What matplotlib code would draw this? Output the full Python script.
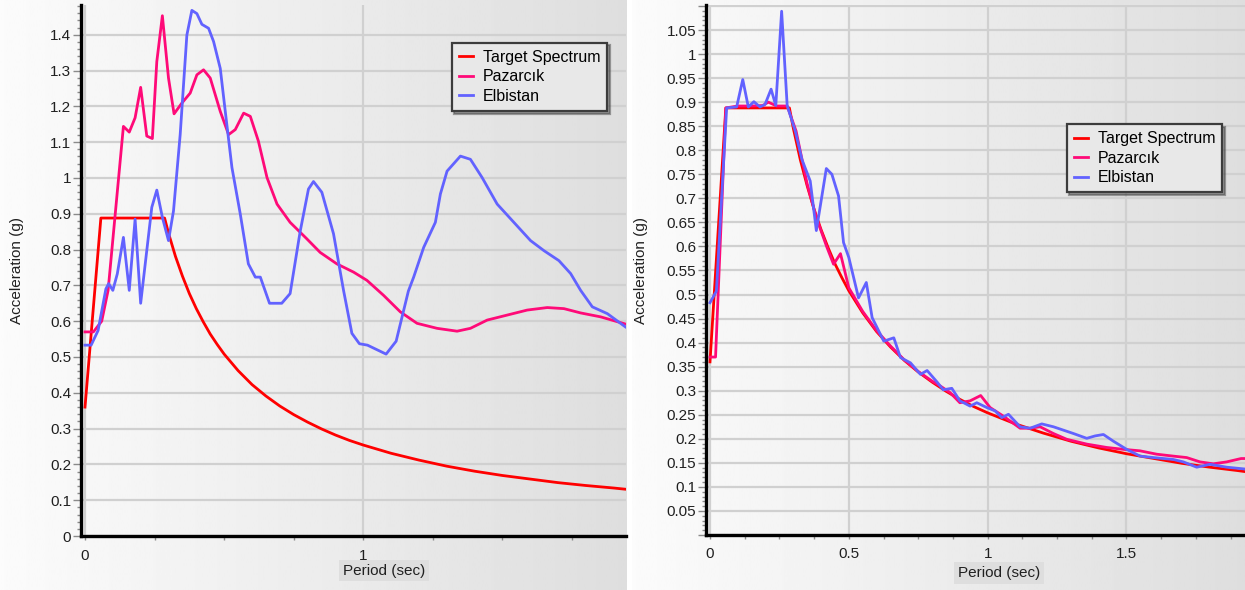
import numpy as np
import matplotlib
matplotlib.use("Agg")
import matplotlib.pyplot as plt
from matplotlib.ticker import MultipleLocator, FuncFormatter

plt.rcParams["font.family"] = ["Liberation Sans", "DejaVu Sans"]

# ------------------------ DATA ------------------------
# target design spectrum (same in both panels)
target_period = [0.0, 0.057, 0.286, 0.30, 0.325, 0.35, 0.375, 0.40, 0.425, 0.45, 0.475,
                 0.50, 0.55, 0.60, 0.65, 0.70, 0.75, 0.80, 0.85, 0.90, 0.95, 1.00,
                 1.10, 1.20, 1.30, 1.40, 1.50, 1.60, 1.70, 1.80, 1.90, 1.95]
target_sa = [0.36, 0.888, 0.888, 0.846, 0.781, 0.726, 0.677, 0.635, 0.598, 0.564, 0.535,
             0.508, 0.462, 0.423, 0.391, 0.363, 0.339, 0.318, 0.299, 0.282, 0.267, 0.254,
             0.231, 0.212, 0.195, 0.181, 0.169, 0.159, 0.149, 0.141, 0.134, 0.130]

# left panel: unscaled records
paz_period_l = [0.0, 0.03, 0.06, 0.083, 0.138, 0.159, 0.18, 0.20, 0.222, 0.242, 0.258,
                0.278, 0.30, 0.32, 0.348, 0.378, 0.402, 0.426, 0.45, 0.486, 0.516, 0.54,
                0.57, 0.594, 0.623, 0.654, 0.69, 0.737, 0.797, 0.845, 0.905, 0.965, 1.013,
                1.073, 1.133, 1.193, 1.265, 1.337, 1.385, 1.445, 1.517, 1.589, 1.661,
                1.721, 1.781, 1.853, 1.942]
paz_sa_l = [0.57, 0.57, 0.60, 0.686, 1.144, 1.128, 1.168, 1.253, 1.117, 1.11, 1.325,
            1.453, 1.279, 1.179, 1.209, 1.237, 1.288, 1.302, 1.279, 1.186, 1.121, 1.135,
            1.181, 1.172, 1.103, 1.001, 0.927, 0.876, 0.83, 0.792, 0.76, 0.737, 0.714,
            0.672, 0.626, 0.594, 0.58, 0.572, 0.58, 0.603, 0.617, 0.631, 0.638,
            0.635, 0.623, 0.612, 0.592]

elb_period_l = [0.0, 0.022, 0.047, 0.075, 0.085, 0.10, 0.116, 0.138, 0.159, 0.18, 0.20,
                0.24, 0.258, 0.278, 0.30, 0.318, 0.342, 0.366, 0.384, 0.402, 0.42, 0.444,
                0.462, 0.486, 0.504, 0.528, 0.558, 0.587, 0.612, 0.63, 0.663, 0.707, 0.737,
                0.773, 0.803, 0.821, 0.851, 0.893, 0.929, 0.959, 0.986, 1.015, 1.082,
                1.118, 1.162, 1.181, 1.217, 1.259, 1.277, 1.301, 1.349, 1.385, 1.427,
                1.481, 1.541, 1.601, 1.649, 1.703, 1.745, 1.781, 1.823, 1.877, 1.942]
elb_sa_l = [0.533, 0.533, 0.574, 0.69, 0.705, 0.686, 0.732, 0.834, 0.686, 0.885, 0.65,
            0.918, 0.966, 0.89, 0.825, 0.908, 1.121, 1.399, 1.468, 1.459, 1.429, 1.418,
            1.381, 1.306, 1.186, 1.029, 0.899, 0.76, 0.723, 0.723, 0.65, 0.65, 0.677,
            0.85, 0.969, 0.99, 0.96, 0.844, 0.686, 0.566, 0.537, 0.533, 0.508,
            0.544, 0.684, 0.723, 0.806, 0.876, 0.955, 1.019, 1.061, 1.052, 1.001,
            0.927, 0.876, 0.825, 0.797, 0.769, 0.733, 0.686, 0.64, 0.621, 0.584]

# right panel: scaled records
paz_period_r = [0.0, 0.02, 0.057, 0.10, 0.15, 0.19, 0.21, 0.24, 0.278, 0.31, 0.35, 0.383,
                0.42, 0.445, 0.47, 0.50, 0.55, 0.60, 0.65, 0.70, 0.75, 0.80, 0.829, 0.865,
                0.90, 0.937, 0.975, 1.009, 1.057, 1.117, 1.153, 1.189, 1.237, 1.285,
                1.357, 1.429, 1.491, 1.549, 1.609, 1.669, 1.717, 1.765, 1.813, 1.861,
                1.913, 1.93]
paz_sa_r = [0.37, 0.37, 0.888, 0.892, 0.892, 0.893, 0.90, 0.892, 0.892, 0.84, 0.73, 0.66,
            0.60, 0.563, 0.585, 0.514, 0.465, 0.425, 0.393, 0.364, 0.34, 0.32, 0.31, 0.296,
            0.275, 0.279, 0.29, 0.265, 0.247, 0.222, 0.222, 0.225, 0.211, 0.199,
            0.189, 0.182, 0.178, 0.175, 0.168, 0.164, 0.161, 0.152, 0.148, 0.152,
            0.159, 0.159]

elb_period_r = [0.0, 0.023, 0.06, 0.096, 0.118, 0.138, 0.158, 0.18, 0.198, 0.22, 0.237,
                0.258, 0.278, 0.307, 0.331, 0.361, 0.383, 0.419, 0.439, 0.463, 0.481, 0.50,
                0.535, 0.563, 0.584, 0.626, 0.662, 0.686, 0.722, 0.758, 0.782, 0.818, 0.84,
                0.871, 0.90, 0.937, 0.961, 0.997, 1.027, 1.051, 1.075, 1.117, 1.153, 1.195,
                1.237, 1.273, 1.309, 1.357, 1.387, 1.417, 1.453, 1.501, 1.549, 1.597,
                1.669, 1.705, 1.753, 1.801, 1.861, 1.913, 1.93]
elb_sa_r = [0.483, 0.507, 0.888, 0.89, 0.947, 0.89, 0.901, 0.89, 0.895, 0.927, 0.893,
            1.089, 0.893, 0.84, 0.781, 0.736, 0.633, 0.762, 0.75, 0.705, 0.608, 0.577,
            0.493, 0.525, 0.452, 0.403, 0.41, 0.369, 0.358, 0.334, 0.342, 0.318, 0.302,
            0.305, 0.279, 0.268, 0.275, 0.265, 0.258, 0.244, 0.251, 0.225, 0.222, 0.231,
            0.225, 0.218, 0.211, 0.201, 0.206, 0.209, 0.195, 0.178, 0.164, 0.161,
            0.157, 0.152, 0.141, 0.147, 0.141, 0.138, 0.137]

series_names = ["Target Spectrum", "Pazarcık", "Elbistan"]
series_colors = ["#ff0000", "#ff0a78", "#6262ff"]

# ------------------------ FIGURE ------------------------
W, H = 1245, 590
fig = plt.figure(figsize=(W / 100, H / 100), dpi=100)
fig.patch.set_facecolor("white")

# panel backgrounds (light gray gradient, as in the screenshot)
grad = np.linspace(0.985, 0.87, 256).reshape(1, -1)
for x0, x1 in [(0, 627), (632, 1245)]:
    bg = fig.add_axes([x0 / W, 0, (x1 - x0) / W, 1])
    bg.imshow(grad, cmap="gray", vmin=0, vmax=1, aspect="auto", extent=(0, 1, 0, 1))
    bg.set_axis_off()


def px_axes(left, top, right, bottom):
    return fig.add_axes([left / W, (H - bottom) / H, (right - left) / W, (bottom - top) / H])


def style_axes(ax, xmaj, xmin, ymaj, ymin, ylab_lo, ylab_hi):
    ax.set_facecolor("none")
    for s in ["top", "right"]:
        ax.spines[s].set_visible(False)
    for s in ["left", "bottom"]:
        ax.spines[s].set_color("black")
        ax.spines[s].set_linewidth(2.4)
    ax.xaxis.set_major_locator(MultipleLocator(xmaj))
    ax.xaxis.set_minor_locator(MultipleLocator(xmin))
    ax.yaxis.set_major_locator(MultipleLocator(ymaj))
    ax.yaxis.set_minor_locator(MultipleLocator(ymin))
    fmt = lambda v, p: "%g" % round(v, 3) if ylab_lo - 1e-9 <= v <= ylab_hi + 1e-9 else ""
    ax.yaxis.set_major_formatter(FuncFormatter(fmt))
    ax.xaxis.set_major_formatter(FuncFormatter(lambda v, p: "%g" % round(v, 3)))
    ax.grid(True, which="major", color="#d0d0d0", lw=1.6)
    ax.set_axisbelow(True)
    ax.tick_params(axis="both", which="both", direction="out", colors="#8a8a8a",
                   labelcolor="#202020", labelsize=11, width=1)
    ax.tick_params(axis="y", which="major", length=5.5, pad=1.5)
    ax.tick_params(axis="y", which="minor", length=3)
    ax.tick_params(axis="x", which="both", length=3, pad=6)


def draw(ax, paz_t, paz_s, elb_t, elb_s):
    ax.plot(target_period, target_sa, color=series_colors[0], lw=2, label=series_names[0])
    ax.plot(paz_t, paz_s, color=series_colors[1], lw=2, label=series_names[1])
    ax.plot(elb_t, elb_s, color=series_colors[2], lw=2, label=series_names[2])


def legend(ax, x, y):
    leg = ax.legend(loc="upper left", bbox_to_anchor=(x, y), fontsize=11.5, frameon=True,
                    fancybox=False, shadow=True, edgecolor="#3c3c3c", facecolor="#e8e8e8",
                    framealpha=1, handlelength=0.9, handletextpad=0.6, labelspacing=0.28,
                    borderpad=0.45, borderaxespad=0)
    leg.get_frame().set_linewidth(1.6)


def labels(ax, xlab_x, xlab_y, ylab_x):
    ax.set_xlabel("Period (sec)", fontsize=11, color="#202020",
                  bbox=dict(boxstyle="square,pad=0.25", fc="#dedede", ec="none"))
    ax.xaxis.set_label_coords(xlab_x, xlab_y)
    ax.set_ylabel("Acceleration (g)", fontsize=11, color="#202020")
    ax.yaxis.set_label_coords(ylab_x, 0.5)


# ------------------------ LEFT PANEL ------------------------
ax1 = px_axes(81, 5, 626, 536)
draw(ax1, paz_period_l, paz_sa_l, elb_period_l, elb_sa_l)
ax1.set_xlim(-0.0144, 1.944)
ax1.set_ylim(0, 1.483)
style_axes(ax1, 1, 0.25, 0.1, 0.02, 0.0, 1.4)
legend(ax1, 0.68, 0.929)
labels(ax1, 0.556, -0.052, -0.105)

# ------------------------ RIGHT PANEL ------------------------
ax2 = px_axes(706, 5, 1245, 535)
draw(ax2, paz_period_r, paz_sa_r, elb_period_r, elb_sa_r)
ax2.set_xlim(-0.0144, 1.927)
ax2.set_ylim(0, 1.102)
style_axes(ax2, 0.5, 0.125, 0.05, 0.01, 0.05, 1.05)
legend(ax2, 0.669, 0.7755)
labels(ax2, 0.5436, -0.058, -0.108)

fig.savefig("out.png", dpi=100, facecolor=fig.get_facecolor())
